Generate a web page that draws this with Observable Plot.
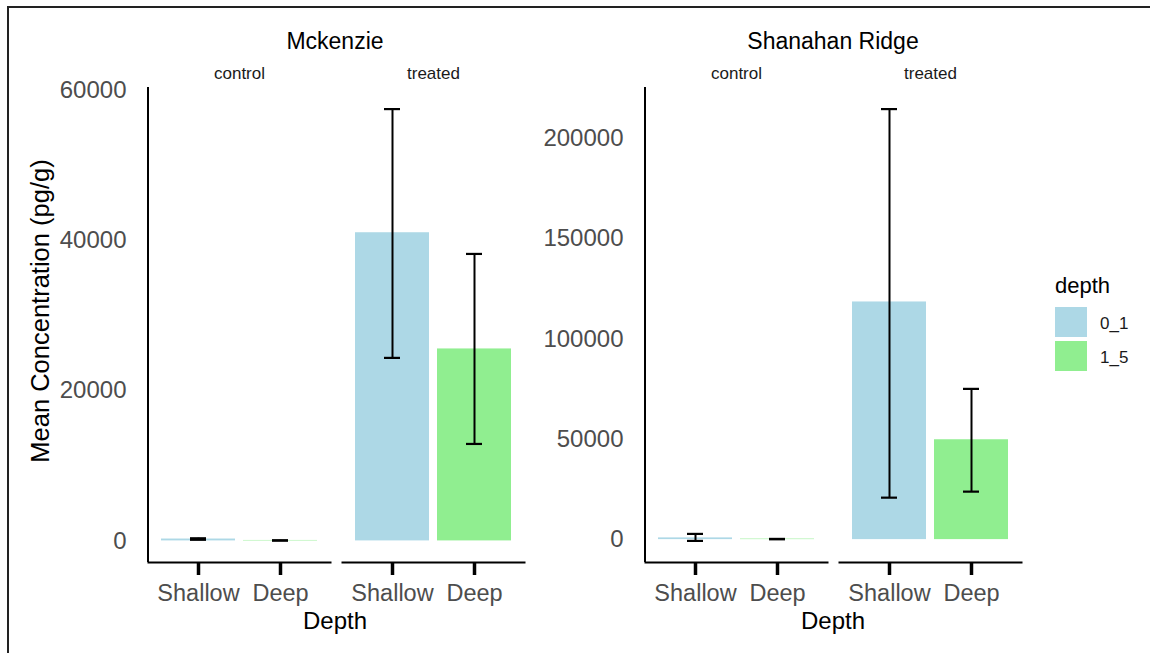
<!DOCTYPE html>
<html>
<head>
<meta charset="utf-8">
<script src="https://cdn.jsdelivr.net/npm/d3@7"></script>
<script src="https://cdn.jsdelivr.net/npm/@observablehq/plot@0.6"></script>
<style>
  html, body { margin: 0; padding: 0; background: #fff; }
  #wrap { position: relative; width: 1150px; height: 653px; overflow: hidden; font-family: "Liberation Sans", Arial, sans-serif; background: #fff; }
  #border { position: absolute; left: 7px; top: 6px; right: -10px; bottom: -10px; border-top: 2px solid #222; border-left: 2px solid #222; }
  .chart { position: absolute; top: 0; }
  .lbl { position: absolute; white-space: nowrap; color: #000; line-height: 1; }
  .swatch { position: absolute; width: 32px; height: 30px; }
</style>
</head>
<body>
<div id="wrap">
  <div id="border"></div>
</div>
<script>
// ---- data ----
const sites = ["Mckenzie", "Shanahan Ridge"];
const treatments = ["control", "treated"];
const depthLabels = ["Shallow", "Deep"];
const depthCodes = ["0_1", "1_5"];
const fillColors = ["#ADD8E6", "#90EE90"];
// order: control-Shallow, control-Deep, treated-Shallow, treated-Deep
const mckenzieMean = [250, 60, 41000, 25540];
const mckenzieLow  = [150, 40, 24350, 12900];
const mckenzieHigh = [350, 80, 57450, 38180];
const shanahanMean = [850, 250, 118400, 49750];
const shanahanLow  = [-650, 150, 20900, 23900];
const shanahanHigh = [2840, 350, 214500, 75100];
const mckenzieTicks = [0, 20000, 40000, 60000];
const shanahanTicks = [0, 50000, 100000, 150000, 200000];

const FONT = '"Liberation Sans", Arial, sans-serif';

function makeChart(means, lows, highs, ticks, width, marginLeft, marginRight) {
  const rows = [];
  treatments.forEach((t, i) => depthLabels.forEach((d, j) => {
    const k = i * 2 + j;
    rows.push({treat: t, depth: d, code: depthCodes[j], mean: means[k], lo: lows[k], hi: highs[k]});
  }));
  const ext = d3.extent([0, ...lows, ...highs]);
  const pad = (ext[1] - ext[0]) * 0.05;
  const chart = Plot.plot({
    width, height: 653,
    marginTop: 87, marginBottom: 91, marginLeft, marginRight,
    style: {fontFamily: FONT, background: "transparent", overflow: "visible"},
    facet: {data: rows, x: "treat"},
    fx: {domain: treatments, paddingInner: 0.0615, paddingOuter: 0, label: null, axis: null},
    x: {domain: depthLabels, paddingInner: 0.1, paddingOuter: 0.15, label: null, axis: null},
    y: {domain: [ext[0] - pad, ext[1] + pad], label: null, axis: null},
    color: {domain: depthCodes, range: fillColors},
    marks: [
      Plot.barY(rows, {x: "depth", y: "mean", fill: "code"}),
      Plot.ruleX(rows, {x: "depth", y1: "lo", y2: "hi", stroke: "black", strokeWidth: 2}),
      Plot.tickY(rows, {x: "depth", y: "lo", stroke: "black", strokeWidth: 2.2, insetLeft: 29, insetRight: 29}),
      Plot.tickY(rows, {x: "depth", y: "hi", stroke: "black", strokeWidth: 2.2, insetLeft: 29, insetRight: 29}),
      Plot.frame({anchor: "bottom", stroke: "black", strokeWidth: 2}),
      Plot.axisX({tickSize: 13, strokeWidth: 3.5, stroke: "black", fill: "#4d4d4d", fontSize: 23.5, tickPadding: 9, label: null}),
      Plot.axisY({ticks, tickSize: 0, tickPadding: 22, fontSize: 24, fill: "#4d4d4d", tickFormat: d3.format("d"), label: null}),
      Plot.axisFx({anchor: "top", tickSize: 0, tickPadding: 9, fontSize: 17, fill: "#1a1a1a", label: null})
    ]
  });
  // y axis line on the leftmost facet, placed through the library's scales
  const fx = chart.scale("fx");
  const y = chart.scale("y");
  const x0 = fx.apply(treatments[0]);
  d3.select(chart).append("line")
    .attr("x1", x0).attr("x2", x0)
    .attr("y1", y.range[0]).attr("y2", y.range[1])
    .attr("stroke", "black").attr("stroke-width", 2);
  return chart;
}

const wrap = document.getElementById("wrap");

const left = makeChart(mckenzieMean, mckenzieLow, mckenzieHigh, mckenzieTicks, 540, 147, 15);
left.classList.add("chart");
left.style.left = "0px";
wrap.appendChild(left);

const right = makeChart(shanahanMean, shanahanLow, shanahanHigh, shanahanTicks, 520, 125, 18);
right.classList.add("chart");
right.style.left = "520px";
wrap.appendChild(right);

function addLabel(text, cx, cy, size, opts = {}) {
  const el = document.createElement("div");
  el.className = "lbl";
  el.textContent = text;
  el.style.fontSize = size + "px";
  el.style.left = cx + "px";
  el.style.top = cy + "px";
  el.style.transform = "translate(-50%, -50%)" + (opts.rotate ? " rotate(-90deg)" : "");
  if (opts.color) el.style.color = opts.color;
  wrap.appendChild(el);
  return el;
}

// panel titles
addLabel(sites[0], 335, 41, 23);
addLabel(sites[1], 833, 41, 23);
// x axis titles
addLabel("Depth", 335, 621, 24);
addLabel("Depth", 833, 621, 24);
// y axis title
addLabel("Mean Concentration (pg/g)", 41, 311, 25.5, {rotate: true});

// legend
const lt = document.createElement("div");
lt.className = "lbl";
lt.textContent = "depth";
lt.style.fontSize = "22px";
lt.style.left = "1055px";
lt.style.top = "275px";
wrap.appendChild(lt);
depthCodes.forEach((c, i) => {
  const sw = document.createElement("div");
  sw.className = "swatch";
  sw.style.background = fillColors[i];
  sw.style.left = "1055px";
  sw.style.top = (307 + i * 34) + "px";
  wrap.appendChild(sw);
  const t = document.createElement("div");
  t.className = "lbl";
  t.textContent = c;
  t.style.fontSize = "17px";
  t.style.left = "1100px";
  t.style.top = (323 + i * 34) + "px";
  t.style.transform = "translateY(-50%)";
  t.style.color = "#1a1a1a";
  wrap.appendChild(t);
});
</script>
</body>
</html>
